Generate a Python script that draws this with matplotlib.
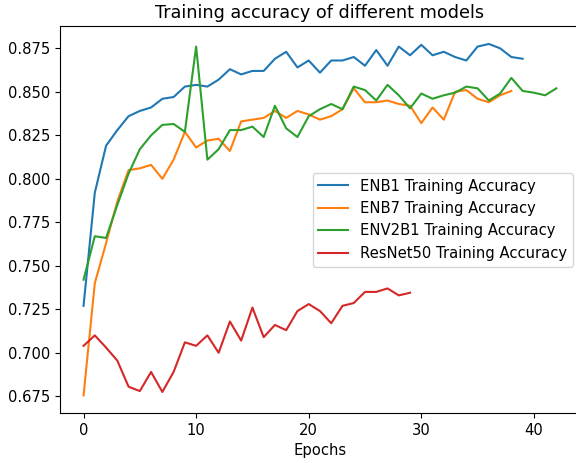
import matplotlib
matplotlib.use("Agg")
from matplotlib import pyplot as plt

# training accuracy per epoch
enb1 = [0.727, 0.792, 0.819, 0.828, 0.836, 0.839, 0.841, 0.846, 0.847, 0.853,
        0.854, 0.853, 0.857, 0.863, 0.860, 0.862, 0.862, 0.869, 0.873, 0.864,
        0.868, 0.861, 0.868, 0.868, 0.870, 0.865, 0.874, 0.865, 0.876, 0.871,
        0.877, 0.871, 0.873, 0.870, 0.868, 0.876, 0.8775, 0.875, 0.870, 0.869]
enb7 = [0.6755, 0.740, 0.763, 0.787, 0.805, 0.806, 0.808, 0.800, 0.811, 0.827,
        0.818, 0.822, 0.823, 0.816, 0.833, 0.834, 0.835, 0.839, 0.835, 0.839,
        0.837, 0.834, 0.836, 0.840, 0.852, 0.844, 0.844, 0.845, 0.843, 0.842,
        0.832, 0.841, 0.834, 0.850, 0.851, 0.846, 0.844, 0.848, 0.8505]
env2b1 = [0.742, 0.767, 0.766, 0.785, 0.803, 0.817, 0.825, 0.831, 0.8315, 0.827,
          0.876, 0.811, 0.817, 0.828, 0.828, 0.830, 0.824, 0.842, 0.829, 0.824,
          0.836, 0.840, 0.843, 0.840, 0.853, 0.851, 0.845, 0.854, 0.848, 0.8405,
          0.849, 0.846, 0.848, 0.8495, 0.853, 0.852, 0.845, 0.849, 0.858, 0.8505,
          0.8495, 0.848, 0.852]
resnet50 = [0.704, 0.710, 0.703, 0.6955, 0.6805, 0.678, 0.689, 0.6775, 0.689, 0.706,
            0.704, 0.710, 0.700, 0.718, 0.707, 0.726, 0.709, 0.716, 0.713, 0.724,
            0.728, 0.724, 0.717, 0.727, 0.7286, 0.735, 0.735, 0.737, 0.733, 0.7345]

plt.rcParams['font.size'] = 10.6

fig, ax = plt.subplots(figsize=(5.76, 4.63), dpi=100)
# the right edge of the axes runs just past the saved picture, as in the original
fig.subplots_adjust(left=0.104, right=1.007, top=0.943, bottom=0.108)

ax.plot(range(len(enb1)), enb1, label="ENB1 Training Accuracy")
ax.plot(range(len(enb7)), enb7, label="ENB7 Training Accuracy")
ax.plot(range(len(env2b1)), env2b1, label="ENV2B1 Training Accuracy")
ax.plot(range(len(resnet50)), resnet50, label="ResNet50 Training Accuracy")

ax.set_title("Training accuracy of different models")
ax.set_xlabel("Epochs")
ax.legend(loc="center right")

fig.savefig("out.png", dpi=100)
